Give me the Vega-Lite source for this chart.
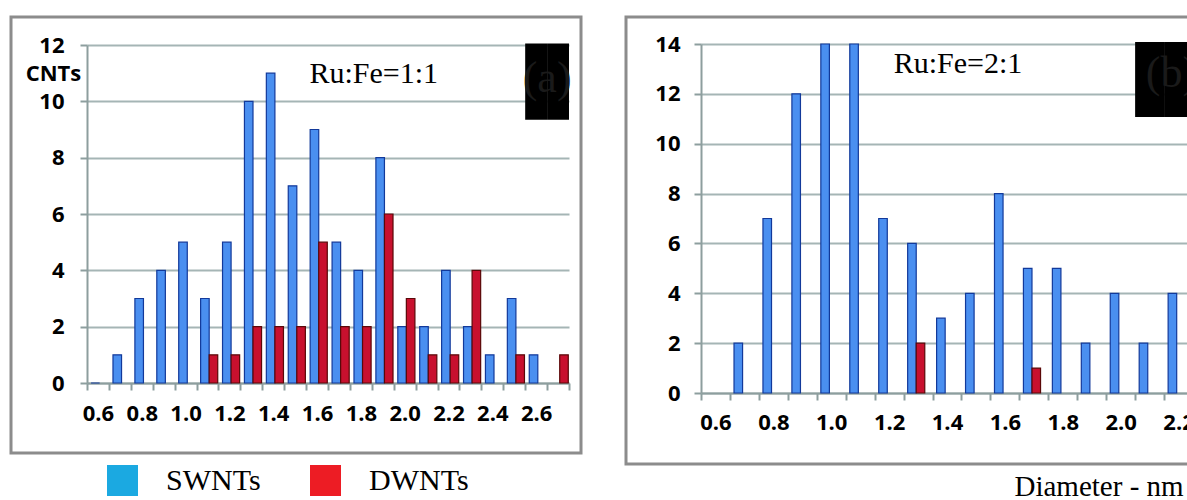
{
  "$schema": "https://vega.github.io/schema/vega-lite/v6.json",
  "padding": {"left": 9, "top": 15, "right": 0, "bottom": 0},
  "background": "white",
  "config": {
    "view": {"stroke": "#8c8c8c", "strokeWidth": 3},
    "axis": {
      "labelFont": "Open Sans", "labelFontWeight": "bold", "labelFontSize": 22, "labelColor": "#000000",
      "domainColor": "#8d9e9e", "domainWidth": 2, "tickColor": "#8d9e9e", "tickWidth": 2, "tickSize": 7,
      "gridColor": "#a5b5b5", "gridWidth": 2
    },
    "legend": {
      "orient": "none", "legendX": 96, "legendY": 448, "direction": "horizontal",
      "symbolType": "square", "symbolSize": 961, "symbolStrokeWidth": 0, "symbolOpacity": 1,
      "labelFont": "Liberation Serif", "labelFontSize": 30, "labelColor": "#000000", "labelOffset": 28, "columnPadding": 49, "padding": 0
    },
    "concat": {"spacing": 41}
  },
  "resolve": {"scale": {"x": "independent", "y": "independent", "color": "shared"}},
  "hconcat": [
    {
      "width": 570,
      "height": 436,
      "data": {"values": [
        {"d": "0.6", "type": "SWNTs", "n": 0},
        {"d": "0.7", "type": "SWNTs", "n": 1},
        {"d": "0.8", "type": "SWNTs", "n": 3},
        {"d": "0.9", "type": "SWNTs", "n": 4},
        {"d": "1.0", "type": "SWNTs", "n": 5},
        {"d": "1.1", "type": "SWNTs", "n": 3},
        {"d": "1.2", "type": "SWNTs", "n": 5},
        {"d": "1.3", "type": "SWNTs", "n": 10},
        {"d": "1.4", "type": "SWNTs", "n": 11},
        {"d": "1.5", "type": "SWNTs", "n": 7},
        {"d": "1.6", "type": "SWNTs", "n": 9},
        {"d": "1.7", "type": "SWNTs", "n": 5},
        {"d": "1.8", "type": "SWNTs", "n": 4},
        {"d": "1.9", "type": "SWNTs", "n": 8},
        {"d": "2.0", "type": "SWNTs", "n": 2},
        {"d": "2.1", "type": "SWNTs", "n": 2},
        {"d": "2.2", "type": "SWNTs", "n": 4},
        {"d": "2.3", "type": "SWNTs", "n": 2},
        {"d": "2.4", "type": "SWNTs", "n": 1},
        {"d": "2.5", "type": "SWNTs", "n": 3},
        {"d": "2.6", "type": "SWNTs", "n": 1},
        {"d": "1.1", "type": "DWNTs", "n": 1},
        {"d": "1.2", "type": "DWNTs", "n": 1},
        {"d": "1.3", "type": "DWNTs", "n": 2},
        {"d": "1.4", "type": "DWNTs", "n": 2},
        {"d": "1.5", "type": "DWNTs", "n": 2},
        {"d": "1.6", "type": "DWNTs", "n": 5},
        {"d": "1.7", "type": "DWNTs", "n": 2},
        {"d": "1.8", "type": "DWNTs", "n": 2},
        {"d": "1.9", "type": "DWNTs", "n": 6},
        {"d": "2.0", "type": "DWNTs", "n": 3},
        {"d": "2.1", "type": "DWNTs", "n": 1},
        {"d": "2.2", "type": "DWNTs", "n": 1},
        {"d": "2.3", "type": "DWNTs", "n": 4},
        {"d": "2.5", "type": "DWNTs", "n": 1},
        {"d": "2.7", "type": "DWNTs", "n": 1}
      ]},
      "layer": [
        {
          "mark": {"type": "bar", "strokeWidth": 1.2},
          "encoding": {
            "x": {
              "field": "d", "type": "nominal", "sort": null,
              "scale": {"domain": ["0.6","0.7","0.8","0.9","1.0","1.1","1.2","1.3","1.4","1.5","1.6","1.7","1.8","1.9","2.0","2.1","2.2","2.3","2.4","2.5","2.6","2.7"], "range": [76, 558], "paddingInner": 0, "paddingOuter": 0},
              "axis": {"orient": "bottom", "offset": -70, "title": null, "labelAngle": 0, "tickBand": "extent", "labelPadding": 13, "grid": false,
                       "labelExpr": "round(toNumber(datum.value) * 10) % 2 === 0 ? datum.label : ''"}
            },
            "xOffset": {"field": "type", "type": "nominal", "sort": null, "scale": {"domain": ["SWNTs", "DWNTs"], "paddingInner": 0, "paddingOuter": 0.28, "align": 0.85}},
            "y": {
              "field": "n", "type": "quantitative",
              "scale": {"domain": [0, 12], "range": [366, 28], "nice": false, "zero": true},
              "axis": {"offset": -76, "values": [0, 2, 4, 6, 8, 10, 12], "labelPadding": 16, "grid": true,
                       "title": "CNTs", "titleAngle": 0, "titleX": -34, "titleY": 56, "titleFont": "Open Sans", "titleFontWeight": "bold", "titleFontSize": 22, "titleColor": "#000000", "titleAlign": "center", "titleBaseline": "middle"}
            },
            "fill": {"condition": {"test": "datum.type === 'SWNTs'", "value": "#4a8ff0"}, "value": "#c8102e"},
            "stroke": {"condition": {"test": "datum.type === 'SWNTs'", "value": "#12399a"}, "value": "#5a0808"}
          }
        },
        {
          "mark": {"type": "square", "opacity": 0},
          "encoding": {
            "x": {"field": "d", "type": "nominal", "sort": null},
            "y": {"field": "n", "type": "quantitative"},
            "color": {
              "field": "type", "type": "nominal", "sort": null,
              "scale": {"domain": ["SWNTs", "DWNTs"], "range": ["#1ba9e1", "#ed1c24"]},
              "legend": {"title": null, "symbolOpacity": 1}
            }
          }
        },
        {
          "data": {"values": [
            {"d": "2.6", "n": 9.35, "n2": 12.05},
            {"d": "2.7", "n": 9.35, "n2": 12.05}
          ]},
          "mark": {"type": "rect", "color": "#000000"},
          "encoding": {
            "x": {"field": "d", "type": "nominal", "sort": null},
            "y": {"field": "n", "type": "quantitative"},
            "y2": {"field": "n2"}
          }
        },
        {
          "data": {"values": [{"d": "2.6", "n": 10.8, "label": "(a)"}]},
          "mark": {"type": "text", "font": "Liberation Serif", "fontSize": 44, "color": "#1a1a1a", "dx": 11, "baseline": "middle", "align": "center"},
          "encoding": {
            "x": {"field": "d", "type": "nominal", "sort": null},
            "y": {"field": "n", "type": "quantitative"},
            "text": {"field": "label"}
          }
        },
        {
          "data": {"values": [{"d": "1.9", "n": 10.97, "label": "Ru:Fe=1:1"}]},
          "mark": {"type": "text", "font": "Liberation Serif", "fontSize": 30, "color": "#000000", "dx": -9, "baseline": "middle", "align": "center"},
          "encoding": {
            "x": {"field": "d", "type": "nominal", "sort": null},
            "y": {"field": "n", "type": "quantitative"},
            "text": {"field": "label"}
          }
        }
      ]
    },
    {
      "width": 567,
      "height": 447,
      "layer": [
        {
          "data": {"values": [
            {"d": "0.7", "type": "SWNTs", "n": 2},
            {"d": "0.8", "type": "SWNTs", "n": 7},
            {"d": "0.9", "type": "SWNTs", "n": 12},
            {"d": "1.0", "type": "SWNTs", "n": 14},
            {"d": "1.1", "type": "SWNTs", "n": 14},
            {"d": "1.2", "type": "SWNTs", "n": 7},
            {"d": "1.3", "type": "SWNTs", "n": 6},
            {"d": "1.4", "type": "SWNTs", "n": 3},
            {"d": "1.5", "type": "SWNTs", "n": 4},
            {"d": "1.6", "type": "SWNTs", "n": 8},
            {"d": "1.7", "type": "SWNTs", "n": 5},
            {"d": "1.8", "type": "SWNTs", "n": 5},
            {"d": "1.9", "type": "SWNTs", "n": 2},
            {"d": "2.0", "type": "SWNTs", "n": 4},
            {"d": "2.1", "type": "SWNTs", "n": 2},
            {"d": "2.2", "type": "SWNTs", "n": 4},
            {"d": "1.3", "type": "DWNTs", "n": 2},
            {"d": "1.7", "type": "DWNTs", "n": 1}
          ]},
          "mark": {"type": "bar", "strokeWidth": 1.2},
          "encoding": {
            "x": {
              "field": "d", "type": "nominal", "sort": null,
              "scale": {"domain": ["0.6","0.7","0.8","0.9","1.0","1.1","1.2","1.3","1.4","1.5","1.6","1.7","1.8","1.9","2.0","2.1","2.2"], "range": [75, 567], "paddingInner": 0, "paddingOuter": 0},
              "axis": {"orient": "bottom", "offset": -71, "labelAngle": 0, "tickBand": "extent", "labelPadding": 12, "grid": false,
                       "labelExpr": "round(toNumber(datum.value) * 10) % 2 === 0 ? datum.label : ''",
                       "title": "Diameter - nm", "titleFont": "Liberation Serif", "titleFontSize": 29, "titleFontWeight": "normal", "titleColor": "#000000",
                       "titleX": 388, "titleY": 102, "titleAlign": "left", "titleBaseline": "alphabetic"}
            },
            "xOffset": {"field": "type", "type": "nominal", "sort": null, "scale": {"domain": ["SWNTs", "DWNTs"], "paddingInner": 0, "paddingOuter": 0.28, "align": 0.85}},
            "y": {
              "field": "n", "type": "quantitative",
              "scale": {"domain": [0, 14], "range": [376, 27], "nice": false, "zero": true},
              "axis": {"offset": -75, "values": [0, 2, 4, 6, 8, 10, 12, 14], "labelPadding": 14, "grid": true, "title": null}
            },
            "fill": {"condition": {"test": "datum.type === 'SWNTs'", "value": "#4a8ff0"}, "value": "#c8102e"},
            "stroke": {"condition": {"test": "datum.type === 'SWNTs'", "value": "#12399a"}, "value": "#5a0808"}
          }
        },
        {
          "data": {"values": [
            {"d": "2.1", "n": 11.07, "n2": 14.08},
            {"d": "2.2", "n": 11.07, "n2": 14.08}
          ]},
          "mark": {"type": "rect", "color": "#000000"},
          "encoding": {
            "x": {"field": "d", "type": "nominal", "sort": null},
            "y": {"field": "n", "type": "quantitative"},
            "y2": {"field": "n2"}
          }
        },
        {
          "data": {"values": [{"d": "2.2", "n": 12.8, "label": "(b)"}]},
          "mark": {"type": "text", "font": "Liberation Serif", "fontSize": 44, "color": "#1a1a1a", "dx": -7, "baseline": "middle", "align": "center"},
          "encoding": {
            "x": {"field": "d", "type": "nominal", "sort": null},
            "y": {"field": "n", "type": "quantitative"},
            "text": {"field": "label"}
          }
        },
        {
          "data": {"values": [{"d": "1.4", "n": 13.2, "label": "Ru:Fe=2:1"}]},
          "mark": {"type": "text", "font": "Liberation Serif", "fontSize": 30, "color": "#000000", "dx": 11, "baseline": "middle", "align": "center"},
          "encoding": {
            "x": {"field": "d", "type": "nominal", "sort": null},
            "y": {"field": "n", "type": "quantitative"},
            "text": {"field": "label"}
          }
        }
      ]
    }
  ]
}
